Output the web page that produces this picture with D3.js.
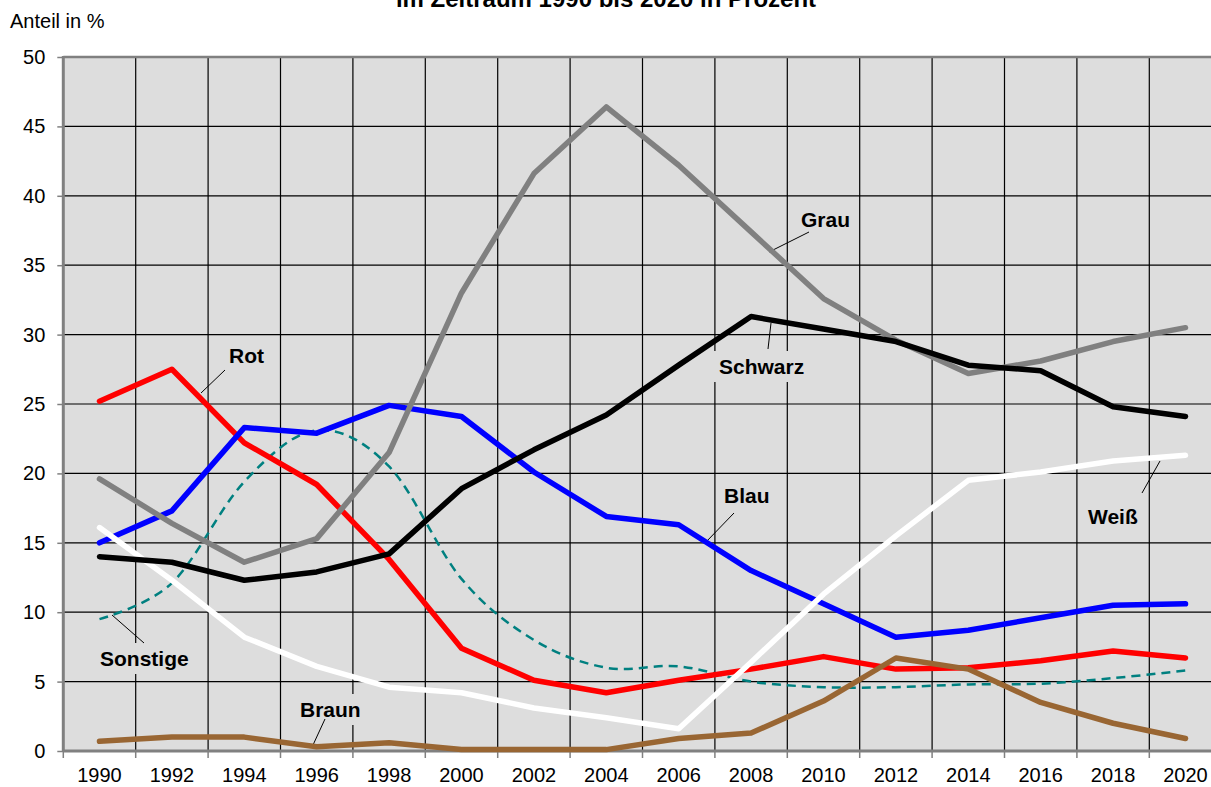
<!DOCTYPE html>
<html>
<head>
<meta charset="utf-8">
<script src="https://cdn.jsdelivr.net/npm/d3@7"></script>
<style>
  body { margin: 0; background: #fff; }
  svg { display: block; font-family: "Liberation Sans", Arial, sans-serif; }
</style>
</head>
<body>
<svg width="1211" height="787"></svg>
<script>
const years = [1990, 1992, 1994, 1996, 1998, 2000, 2002, 2004, 2006, 2008, 2010, 2012, 2014, 2016, 2018, 2020];
const yTicks = [0, 5, 10, 15, 20, 25, 30, 35, 40, 45, 50];

const rot      = [25.2, 27.5, 22.2, 19.2, 13.8, 7.4, 5.1, 4.2, 5.1, 5.9, 6.8, 5.9, 6.0, 6.5, 7.2, 6.7];
const blau     = [15.0, 17.3, 23.3, 22.9, 24.9, 24.1, 20.1, 16.9, 16.3, 13.0, 10.6, 8.2, 8.7, 9.6, 10.5, 10.6];
const schwarz  = [14.0, 13.6, 12.3, 12.9, 14.2, 18.9, 21.7, 24.2, 27.8, 31.3, 30.4, 29.5, 27.8, 27.4, 24.8, 24.1];
const grau     = [19.6, 16.4, 13.6, 15.3, 21.5, 33.0, 41.6, 46.4, 42.2, 37.4, 32.6, 29.6, 27.2, 28.1, 29.5, 30.5];
const weiss    = [16.1, 12.3, 8.2, 6.1, 4.6, 4.2, 3.1, 2.4, 1.6, 6.4, 11.3, 15.5, 19.5, 20.1, 20.9, 21.3];
const braun    = [0.7, 1.0, 1.0, 0.3, 0.6, 0.1, 0.1, 0.1, 0.9, 1.3, 3.6, 6.7, 5.9, 3.5, 2.0, 0.9];
const sonstige = [9.5, 12.1, 19.4, 23.1, 20.5, 12.4, 8.0, 6.0, 6.1, 5.0, 4.6, 4.6, 4.8, 4.85, 5.25, 5.8];

const series = [
    { name: "Sonstige", values: sonstige, color: "#008080", width: 2.5, dash: "9,6", smooth: true },
    { name: "Rot",      values: rot,      color: "#ff0000", width: 5.5 },
    { name: "Blau",     values: blau,     color: "#0000ff", width: 5.5 },
    { name: "Weiß",     values: weiss,    color: "#ffffff", width: 5.5 },
    { name: "Braun",    values: braun,    color: "#996633", width: 5.5 },
    { name: "Grau",     values: grau,     color: "#808080", width: 5.5 },
    { name: "Schwarz",  values: schwarz,  color: "#000000", width: 5.5 }
];

// label position (text anchor point) and leader line ends
const labels = [
    { text: "Rot",      x: 229,  y: 363, line: [225, 370, 201, 393] },
    { text: "Grau",     x: 801,  y: 227, line: [809, 232, 769, 252] },
    { text: "Schwarz",  x: 719,  y: 374, line: [768, 349, 771, 323] },
    { text: "Blau",     x: 724,  y: 503, line: [734, 513, 706, 542] },
    { text: "Weiß",     x: 1088, y: 524, line: [1142, 493, 1160, 461] },
    { text: "Sonstige", x: 100,  y: 666, line: [112, 615, 144, 643] },
    { text: "Braun",    x: 300,  y: 717, line: [325, 719, 313, 745] }
];

const svg = d3.select("svg");
const mLeft = 63.3, mTop = 57, mBottom = 751, mRight = 1221.7;

const x = d3.scaleBand().domain(years).range([mLeft, mRight]);
const y = d3.scaleLinear().domain([0, 50]).range([mBottom, mTop]);
const cx = d => x(d) + x.bandwidth() / 2;

// title (top part cut off in the original)
svg.append("text")
    .attr("x", 606).attr("y", 7)
    .attr("text-anchor", "middle")
    .attr("font-size", 24).attr("font-weight", "bold")
    .text("im Zeitraum 1990 bis 2020 in Prozent");

svg.append("text")
    .attr("x", 10).attr("y", 28)
    .attr("font-size", 20)
    .text("Anteil in %");

// plot background
svg.append("rect")
    .attr("x", mLeft).attr("y", mTop)
    .attr("width", mRight - mLeft).attr("height", mBottom - mTop)
    .attr("fill", "#dddddd");

// grid
const grid = svg.append("g");
grid.selectAll("line.h")
    .data(yTicks.filter(d => d > 0 && d < 50))
    .enter().append("line")
    .attr("x1", mLeft).attr("x2", mRight)
    .attr("y1", d => y(d)).attr("y2", d => y(d))
    .attr("stroke", "#000").attr("stroke-width", 1.2);
grid.selectAll("line.v")
    .data(years.slice(1))
    .enter().append("line")
    .attr("x1", d => x(d)).attr("x2", d => x(d))
    .attr("y1", mTop).attr("y2", mBottom)
    .attr("stroke", "#000").attr("stroke-width", 1.2);

// top border
svg.append("line")
    .attr("x1", mLeft).attr("x2", mRight)
    .attr("y1", mTop).attr("y2", mTop)
    .attr("stroke", "#808080").attr("stroke-width", 2.5);

// axes
const yAxis = svg.append("g")
    .attr("transform", `translate(${mLeft},0)`)
    .call(d3.axisLeft(y).tickValues(yTicks).tickSize(6).tickPadding(12));
yAxis.select(".domain").remove();
yAxis.selectAll(".tick line").attr("stroke", "#808080").attr("stroke-width", 1.5);
yAxis.selectAll(".tick text").attr("font-size", 20).attr("fill", "#000")
    .attr("font-family", "Liberation Sans, Arial, sans-serif");

const xAxis = svg.append("g")
    .attr("transform", `translate(0,${mBottom})`)
    .call(d3.axisBottom(x).tickSize(0).tickPadding(17));
xAxis.select(".domain").remove();
xAxis.selectAll(".tick text").attr("font-size", 20).attr("fill", "#000")
    .attr("font-family", "Liberation Sans, Arial, sans-serif");
svg.append("g").selectAll("line")
    .data(years.concat([null]))
    .enter().append("line")
    .attr("x1", (d, i) => mLeft + i * x.bandwidth())
    .attr("x2", (d, i) => mLeft + i * x.bandwidth())
    .attr("y1", mBottom).attr("y2", mBottom + 7)
    .attr("stroke", "#808080").attr("stroke-width", 1.5);

svg.append("line")
    .attr("x1", mLeft).attr("x2", mLeft)
    .attr("y1", mTop - 1).attr("y2", mBottom + 1)
    .attr("stroke", "#808080").attr("stroke-width", 3);
svg.append("line")
    .attr("x1", mLeft).attr("x2", mRight)
    .attr("y1", mBottom).attr("y2", mBottom)
    .attr("stroke", "#808080").attr("stroke-width", 3);

// labels: background box breaks the grid lines
const lab = svg.append("g");
labels.forEach(l => {
    const g = lab.append("g");
    const t = g.append("text")
        .attr("x", l.x).attr("y", l.y)
        .attr("font-size", 21).attr("font-weight", "bold")
        .text(l.text);
    const b = t.node().getBBox();
    g.insert("rect", "text")
        .attr("x", b.x - 5).attr("y", b.y - 4)
        .attr("width", b.width + 10).attr("height", b.height + 8)
        .attr("fill", "#dddddd");
    g.append("line")
        .attr("x1", l.line[0]).attr("y1", l.line[1])
        .attr("x2", l.line[2]).attr("y2", l.line[3])
        .attr("stroke", "#000").attr("stroke-width", 1);
});

// lines
series.forEach(s => {
    const line = d3.line()
        .x((d, i) => cx(years[i]))
        .y(d => y(d))
        .curve(s.smooth ? d3.curveCatmullRom.alpha(0) : d3.curveLinear);
    svg.append("path")
        .datum(s.values)
        .attr("d", line)
        .attr("fill", "none")
        .attr("stroke", s.color)
        .attr("stroke-width", s.width)
        .attr("stroke-dasharray", s.dash || null)
        .attr("stroke-linejoin", "round")
        .attr("stroke-linecap", s.dash ? "butt" : "round");
});
</script>
</body>
</html>
